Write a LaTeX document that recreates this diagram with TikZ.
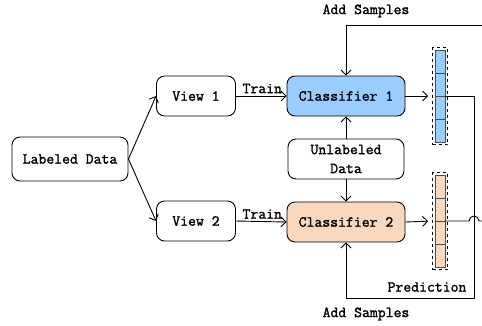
\documentclass[tikz,border=0pt]{standalone}
\usepackage{fontspec}
\usepackage{xcolor}
\usepackage{tikz}
\usetikzlibrary{positioning}
\usetikzlibrary{arrows.meta}

\newfontfamily\diagfont{Latin Modern Mono}[FakeBold=1.6]
\definecolor{clfblue}{RGB}{153,204,255}
\definecolor{clforange}{RGB}{250,216,190}

\begin{document}
\begin{tikzpicture}[
      x=1pt, y=-1pt,
      font=\fontsize{15.3}{19}\selectfont\diagfont,
      type-data/.style={rectangle, rounded corners=8pt, draw=black, line width=0.9pt, fill=white, minimum width=116pt, minimum height=44pt, inner sep=0pt},
      type-view/.style={rectangle, rounded corners=8pt, draw=black, line width=0.9pt, fill=white, minimum width=79pt, minimum height=40pt, inner sep=0pt},
      type-class/.style={rectangle, rounded corners=8pt, draw=black, line width=0.9pt, minimum width=118pt, minimum height=40pt, inner sep=0pt},
      type-bar/.style={rectangle, draw=black!70, line width=0.7pt, minimum width=10pt, minimum height=92pt, inner sep=0pt},
      type-box/.style={rectangle, draw=black, dashed, line width=0.7pt, minimum width=15pt, minimum height=97pt, inner sep=0pt},
      flow/.style={line width=0.9pt, -{Straight Barb[length=5pt,width=10pt,line width=0.9pt]}},
      link/.style={line width=0.9pt}
    ]
      \clip (0,0) rectangle (482,325);

      % left part
      \node[type-data] (labeled) at (70,159) {Labeled Data};
      \node[type-view] (view1) at (196,96) {View 1};
      \node[type-view] (view2) at (196,221) {View 2};

      % classifiers
      \node[type-class, fill=clfblue] (clf1) at (346,96) {Classifier 1};
      \node[type-class, fill=clforange] (clf2) at (346,222) {Classifier 2};
      \node[type-data, minimum height=40pt, align=center] (unlabeled) at (346,159) {Unlabeled\\Data};

      % prediction bars
      \node[type-bar, fill=clfblue] (pred1) at (440,96) {};
      \node[type-box] (box1) at (pred1) {};
      \node[type-bar, fill=clforange] (pred2) at (440,221) {};
      \node[type-box] (box2) at (pred2) {};
      \foreach \k in {-23,0,23} {
        \draw[draw=black!70, line width=0.7pt] ([yshift=\k]pred1.west) -- ([yshift=\k]pred1.east);
        \draw[draw=black!70, line width=0.7pt] ([yshift=\k]pred2.west) -- ([yshift=\k]pred2.east);
      }

      \draw[flow] (labeled.east) -- (view1.west);
      \draw[flow] (labeled.east) -- (view2.west);
      \draw[flow] (view1.east) -- node[above, xshift=1pt, yshift=-1pt] (train1) {Train} (clf1.west);
      \draw[flow] (view2.east) -- node[above, xshift=1pt, yshift=-1pt] (train2) {Train} (clf2.west);
      \draw[flow] (unlabeled.north) -- (clf1.south);
      \draw[flow] (unlabeled.south) -- (clf2.north);
      \draw[flow, shorten >=4pt] (clf1.east) -- (box1.west);
      \draw[flow, shorten >=4pt] (clf2.east) -- (box2.west);

      % feedback loops
      \coordinate (turn1) at (474,298);
      \coordinate (turn2) at (492,25);
      \draw[flow] (pred1.east) -| (turn1) -| (clf2.south);
      \draw[link] (pred2.east) -- (469,221) arc[start angle=180, end angle=360, radius=5] -- (turn2 |- pred2.east) -- (turn2);
      \draw[flow] (turn2) -| (clf1.north);

      \node (add1) at (366,11) {Add Samples};
      \node (add2) at (366,314) {Add Samples};
      \node (prediction) at (427,287) {Prediction};
    \end{tikzpicture}
\end{document}
